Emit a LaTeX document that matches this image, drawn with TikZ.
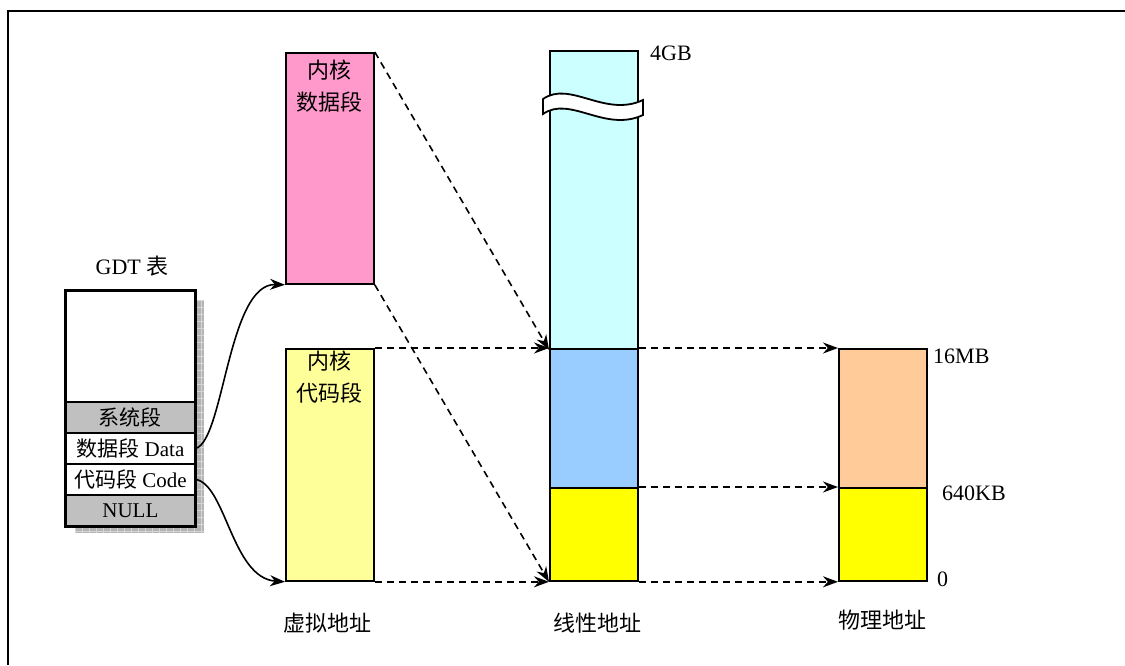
\documentclass[tikz,border=0pt]{standalone}
\usepackage{fontspec}
\setmainfont{Liberation Serif}
\newfontfamily\cjk{Noto Sans CJK SC}
\usetikzlibrary{arrows.meta}
\definecolor{kpink}{HTML}{FF99CC}
\definecolor{kyel}{HTML}{FFFF99}
\definecolor{lcyan}{HTML}{CCFFFF}
\definecolor{lblue}{HTML}{99CCFF}
\definecolor{yel}{HTML}{FFFF00}
\definecolor{orng}{HTML}{FFCC99}
\definecolor{sysgray}{HTML}{C0C0C0}
\definecolor{shadowgray}{HTML}{B4B4B4}
\definecolor{gridgray}{HTML}{D4D4D4}
\begin{document}
\begin{tikzpicture}[x=1pt,y=-1pt,
  segbox/.style={draw=black, line width=1.8pt, inner sep=0pt, anchor=north west, minimum width=88pt},
  gdtrow/.style={draw=black, line width=1.8pt, inner sep=0pt, anchor=north west, minimum width=129pt, minimum height=31pt, font=\fontsize{21}{24}\selectfont},
  lab/.style={font=\fontsize{22}{24}\selectfont, inner sep=0pt},
  cjklab/.style={font=\cjk\fontsize{22}{32}\selectfont, inner sep=0pt, align=center},
  darr/.style={line width=1.6pt, dash pattern=on 7pt off 5pt, -{Stealth[length=15pt,width=11pt]}},
  carr/.style={line width=1.6pt, -{Stealth[length=15pt,width=11pt]}}
]
\useasboundingbox (0,0) rectangle (1125,665);
% outer frame (top and left visible)
\draw[line width=2pt] (8,665) -- (8,11) -- (1125,11);

% GDT shadow
\fill[shadowgray] (75,300) rectangle (204,533);
\foreach \xx in {75,82,...,204} \draw[gridgray, line width=0.7pt] (\xx,300) -- (\xx,533);
\foreach \yy in {300,307,...,533} \draw[gridgray, line width=0.7pt] (75,\yy) -- (204,\yy);

% GDT table
\node[gdtrow, fill=white, minimum height=111pt] (g0) at (65,290) {};
\node[gdtrow, fill=sysgray] (gsys) at (65,401) {\cjk 系统段};
\node[gdtrow, fill=white] (gdata) at (65,432) {{\cjk 数据段} Data};
\node[gdtrow, fill=white] (gcode) at (65,463) {{\cjk 代码段} Code};
\node[gdtrow, fill=sysgray] (gnull) at (65,494) {NULL};
\draw[line width=2.5pt] (g0.north west) rectangle (gnull.south east);
\node[lab] (gdtlab) at (132,266) {GDT {\cjk 表}};

% virtual segments
\node[segbox, fill=kpink, minimum height=231pt] (kd) at (285,52) {};
\node[cjklab, anchor=north] (kdt) at (329,60) {内核\\数据段};
\node[segbox, fill=kyel, minimum height=232pt] (kc) at (285,348) {};
\node[cjklab, anchor=north] (kct) at (329,351) {内核\\代码段};

% linear column
\node[segbox, fill=lcyan, minimum height=298pt] (lt) at (549,50) {};
\node[segbox, fill=lblue, minimum height=139pt] (lm) at (549,348) {};
\node[segbox, fill=yel, minimum height=93pt] (lb) at (549,487) {};
% break mark
\draw[line width=1.8pt, fill=white] (543,99) .. controls (570,80) and (605,118) .. (643,100)
  -- (643,115) .. controls (605,133) and (570,95) .. (543,114) -- cycle;

% physical column
\node[segbox, fill=orng, minimum height=139pt] (pt) at (838,348) {};
\node[segbox, fill=yel, minimum height=93pt] (pb) at (838,487) {};

% labels
\node[lab, anchor=west] (t4) at (650,53) {4GB};
\node[lab, anchor=west] (t16) at (933,356) {16MB};
\node[lab, anchor=west] (t640) at (942,493) {640KB};
\node[lab, anchor=west] (t0) at (937,579) {0};
\node[cjklab] (va) at (327,623) {虚拟地址};
\node[cjklab] (la) at (597,623) {线性地址};
\node[cjklab] (pa) at (882,620) {物理地址};

% curved connectors
\draw[carr] (gdata.east) .. controls (224,440) and (228,283) .. (kd.south west);
\draw[carr] (gcode.east) .. controls (226,485) and (232,578) .. (kc.south west);

% dashed connectors
\draw[darr] (kd.north east) -- (lt.south west);
\draw[darr] (kd.south east) -- (lb.south west);
\draw[darr] (kc.north east) -- (lm.north west);
\draw[darr] (kc.south east) -- (lb.south west);
\draw[darr] (lm.north east) -- (pt.north west);
\draw[darr] (lb.north east) -- (pb.north west);
\draw[darr] (lb.south east) -- (pb.south west);
\end{tikzpicture}
\end{document}
